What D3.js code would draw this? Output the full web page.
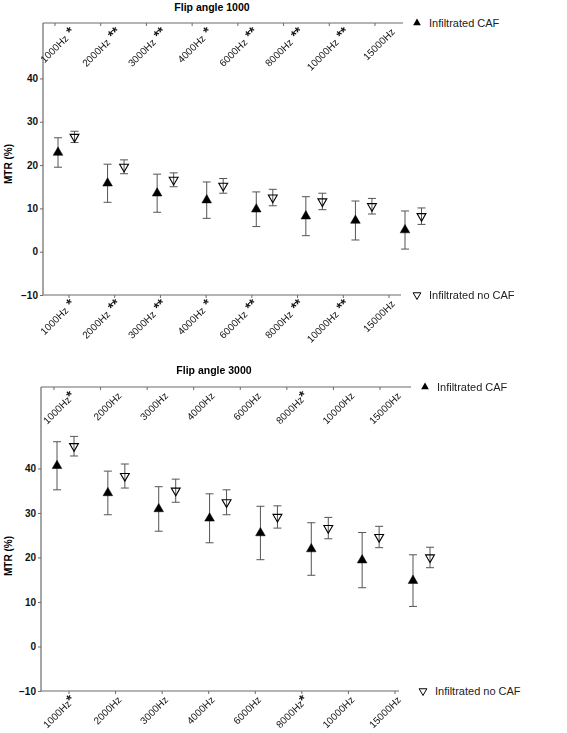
<!DOCTYPE html>
<html>
<head>
<meta charset="utf-8">
<script src="https://cdn.jsdelivr.net/npm/d3@7"></script>
<style>
  body { margin: 0; background: #fff; }
  svg { display: block; font-family: "Liberation Sans", Arial, sans-serif; }
  .catlab { opacity: 0.99; }
</style>
</head>
<body>
<svg id="chart" width="567" height="733"></svg>
<script>
// ---- data ----
const categories = ["1000Hz","2000Hz","3000Hz","4000Hz","6000Hz","8000Hz","10000Hz","15000Hz"];
const yTicks = [-10, 0, 10, 20, 30, 40];

// Flip angle 1000
const fa1000Stars = ["*","**","**","*","**","**","**",""];
const fa1000CafMean = [22.9, 15.8, 13.5, 11.9, 9.8, 8.2, 7.2, 5.0];
const fa1000CafErr  = [3.4, 4.4, 4.4, 4.2, 4.0, 4.5, 4.5, 4.4];
const fa1000NoCafMean = [26.5, 19.6, 16.6, 15.2, 12.5, 11.6, 10.5, 8.2];
const fa1000NoCafErr  = [1.3, 1.6, 1.6, 1.7, 1.9, 1.9, 1.8, 1.9];

// Flip angle 3000
const fa3000Stars = ["*","","","","","*","",""];
const fa3000CafMean = [40.6, 34.5, 30.9, 28.8, 25.5, 21.9, 19.4, 14.8];
const fa3000CafErr  = [5.4, 4.9, 5.0, 5.5, 6.0, 5.9, 6.2, 5.8];
const fa3000NoCafMean = [45.0, 38.3, 35.0, 32.4, 29.1, 26.6, 24.6, 20.0];
const fa3000NoCafErr  = [2.2, 2.7, 2.6, 2.8, 2.5, 2.4, 2.4, 2.3];

const legendLabels = ["Infiltrated CAF", "Infiltrated no CAF"];

// ---- layout ----
const panels = [
  { title: "Flip angle 1000", stars: fa1000Stars, sep: " ",
    caf: fa1000CafMean, cafErr: fa1000CafErr, nocaf: fa1000NoCafMean, nocafErr: fa1000NoCafErr,
    x0: 43, top: 23, bottom: 295, yMax: 52.8, topRight: 403, botRight: 401,
    tickBot: [69, 389], tickTopShift: -14, dataRange: [58, 405], dataOff: 16.5,
    titleX: 212, titleY: 11, legX: 417, legX2: 417, labY: 164 },
  { title: "Flip angle 3000", stars: fa3000Stars, sep: "",
    caf: fa3000CafMean, cafErr: fa3000CafErr, nocaf: fa3000NoCafMean, nocafErr: fa3000NoCafErr,
    x0: 41, top: 387, bottom: 691, yMax: 58.3, topRight: 411, botRight: 399,
    tickBot: [69, 395], tickTopShift: -15, dataRange: [57, 413], dataOff: 17,
    titleX: 214, titleY: 374, legX: 425, legX2: 423, labY: 556 }
];

const svg = d3.select("#chart");
const axisColor = "#6b6b6b";
const barColor = "#555";

panels.forEach(p => {
  const g = svg.append("g");
  const y = d3.scaleLinear().domain([-10, p.yMax]).range([p.bottom, p.top]);
  const xTickBot = d3.scalePoint().domain(categories).range(p.tickBot);
  const xData = d3.scalePoint().domain(categories).range(p.dataRange);

  // title
  g.append("text").attr("x", p.titleX).attr("y", p.titleY)
    .attr("text-anchor", "middle").attr("font-size", 10.5).attr("font-weight", "bold")
    .text(p.title);

  // y axis label
  g.append("text")
    .attr("transform", `translate(12,${p.labY}) rotate(-90)`)
    .attr("text-anchor", "middle").attr("font-size", 10).attr("font-weight", "bold")
    .text("MTR (%)");

  // left axis
  const yAxis = d3.axisLeft(y).tickValues(yTicks).tickSize(3).tickPadding(2).tickFormat(d3.format("d"));
  const ya = g.append("g").attr("transform", `translate(${p.x0},0)`).call(yAxis);
  ya.select(".domain").remove();
  ya.selectAll("line").attr("stroke", axisColor);
  ya.selectAll("text").attr("font-size", 10).attr("font-weight", "bold").attr("fill", "#111")
    .attr("font-family", "Liberation Sans, Arial, sans-serif");
  g.append("line").attr("x1", p.x0).attr("x2", p.x0).attr("y1", p.top).attr("y2", p.bottom)
    .attr("stroke", axisColor).attr("stroke-width", 1.2);

  // top and bottom axis lines
  g.append("line").attr("x1", p.x0).attr("x2", p.topRight).attr("y1", p.top).attr("y2", p.top)
    .attr("stroke", axisColor).attr("stroke-width", 1.2);
  g.append("line").attr("x1", p.x0).attr("x2", p.botRight).attr("y1", p.bottom).attr("y2", p.bottom)
    .attr("stroke", axisColor).attr("stroke-width", 1.2);

  // category ticks
  categories.forEach(c => {
    const xb = xTickBot(c);
    g.append("line").attr("x1", xb).attr("x2", xb).attr("y1", p.bottom).attr("y2", p.bottom + 3)
      .attr("stroke", axisColor);
    const xt = xb + p.tickTopShift;
    g.append("line").attr("x1", xt).attr("x2", xt).attr("y1", p.top).attr("y2", p.top + 3)
      .attr("stroke", axisColor);
  });

  // category labels (both at top and bottom)
  const lg = g.append("g").attr("class", "catlab");
  [p.top, p.bottom].forEach(ay => {
    categories.forEach((c, i) => {
      const t = lg.append("text")
        .attr("transform", `translate(${xTickBot(c) + 3},${ay + 6}) rotate(-45)`)
        .attr("text-anchor", "end").attr("font-size", 10).attr("fill", "#111")
        .attr("dy", "0.5em");
      t.append("tspan").text(c);
      if (p.stars[i]) {
        t.append("tspan").attr("font-size", 14).attr("font-weight", "bold")
          .text(p.sep + p.stars[i]);
      }
    });
  });

  // error bars + markers
  const series = [
    { mean: p.caf, err: p.cafErr, off: 0, filled: true },
    { mean: p.nocaf, err: p.nocafErr, off: p.dataOff, filled: false }
  ];
  series.forEach(s => {
    categories.forEach((c, i) => {
      const cx = xData(c) + s.off;
      const yt = y(s.mean[i] + s.err[i]), yb = y(s.mean[i] - s.err[i]);
      g.append("line").attr("x1", cx).attr("x2", cx).attr("y1", yt).attr("y2", yb)
        .attr("stroke", barColor).attr("stroke-width", 1);
      [yt, yb].forEach(yy => g.append("line").attr("x1", cx - 4).attr("x2", cx + 4)
        .attr("y1", yy).attr("y2", yy).attr("stroke", barColor).attr("stroke-width", 1));
      const sym = d3.symbol().type(d3.symbolTriangle).size(s.filled ? 40 : 34);
      g.append("path").attr("d", sym())
        .attr("transform", `translate(${cx},${y(s.mean[i])})` + (s.filled ? "" : " rotate(180)"))
        .attr("fill", s.filled ? "#000" : "none")
        .attr("stroke", "#000").attr("stroke-width", s.filled ? 0.5 : 1.1);
    });
  });

  // legend
  const symF = d3.symbol().type(d3.symbolTriangle).size(26);
  g.append("path").attr("d", symF()).attr("transform", `translate(${p.legX},${p.top})`).attr("fill", "#000");
  g.append("text").attr("x", p.legX + 12).attr("y", p.top + 4).attr("font-size", 11).attr("fill", "#222")
    .text(legendLabels[0]);
  g.append("path").attr("d", symF()).attr("transform", `translate(${p.legX2},${p.bottom}) rotate(180)`)
    .attr("fill", "none").attr("stroke", "#000").attr("stroke-width", 1);
  g.append("text").attr("x", p.legX2 + 12).attr("y", p.bottom + 4).attr("font-size", 11).attr("fill", "#222")
    .text(legendLabels[1]);
});
</script>
</body>
</html>
